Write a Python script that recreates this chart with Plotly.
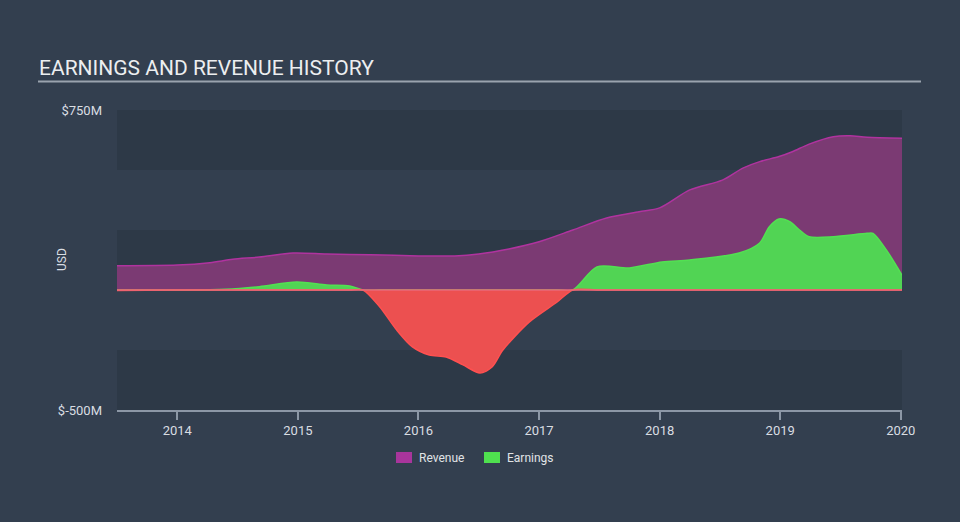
import plotly.graph_objects as go

# ---- data (USD millions, decimal years) ----
rev_x = [2013.5, 2014.0, 2014.27, 2014.46, 2014.68, 2014.96, 2015.24, 2015.6, 2016.0, 2016.3,
         2016.5, 2016.75, 2017.0, 2017.28, 2017.56, 2017.83, 2018.0, 2018.25, 2018.52, 2018.69,
         2018.83, 2018.99, 2019.1, 2019.24, 2019.44, 2019.58, 2019.72, 2020.01]
rev_y = [101, 104, 114, 128, 137, 154, 150, 147, 142, 142,
         150, 171, 201, 250, 300, 326, 342, 417, 458, 508,
         535, 556, 576, 608, 639, 643, 636, 632]

earn_x = [2013.5, 2014.0, 2014.4, 2014.68, 2014.99, 2015.24, 2015.43, 2015.54, 2015.68, 2015.82,
          2015.95, 2016.09, 2016.23, 2016.37, 2016.51, 2016.61, 2016.70, 2016.92, 2017.15, 2017.28,
          2017.48, 2017.75, 2018.02, 2018.25, 2018.66, 2018.83, 2018.91, 2018.99, 2019.08, 2019.16,
          2019.24, 2019.44, 2019.72, 2019.77, 2019.88, 2020.01]
earn_y = [-2, 0, 3, 14, 33, 21, 17, 0, -71, -167,
          -237, -271, -279, -312, -346, -321, -250, -133, -50, 0,
          96, 92, 117, 125, 154, 196, 264, 296, 285, 250,
          222, 222, 236, 236, 167, 62]

year_ticks = [2014, 2015, 2016, 2017, 2018, 2019, 2020]
y_ticks = [-500, 750]
y_tick_text = ["$-500M", "$750M"]
band_edges = [-500, -250, 0, 250, 500, 750]
legend_names = ["Revenue", "Earnings"]
legend_colors = ["#a8359c", "#4fe04f"]

BG = "#333f4f"
BAND = "#2d3947"

earn_pos = [max(v, 0) for v in earn_y]
earn_neg = [min(v, 0) for v in earn_y]

fig = go.Figure()
fig.add_trace(go.Scatter(x=rev_x, y=rev_y, mode="lines", name="Revenue",
                         line=dict(color="#b0339f", width=1.5, shape="spline", smoothing=0.8),
                         fill="tozeroy", fillcolor="#7b3a73", showlegend=False, hoverinfo="skip"))
fig.add_trace(go.Scatter(x=earn_x, y=earn_pos, mode="lines", name="Earnings",
                         line=dict(color="#52e052", width=1.5, shape="spline", smoothing=0.8),
                         fill="tozeroy", fillcolor="#51d454", showlegend=False, hoverinfo="skip"))
fig.add_trace(go.Scatter(x=earn_x, y=earn_neg, mode="lines", name="Earnings (loss)",
                         line=dict(color="#ff5050", width=1.5, shape="spline", smoothing=0.8),
                         fill="tozeroy", fillcolor="#ec5050", showlegend=False, hoverinfo="skip"))

L, R, T, B = 117, 58, 110, 112
pw, ph = 960 - L - R, 522 - T - B
def px(x):
    return (x - L) / pw
def py(y):
    return (522 - B - y) / ph

shapes = []
for i in range(len(band_edges) - 1):
    if i % 2 == 0:
        shapes.append(dict(type="rect", xref="paper", yref="y", x0=0, x1=1,
                           y0=band_edges[i], y1=band_edges[i + 1], fillcolor=BAND,
                           line=dict(width=0), layer="below"))
shapes.append(dict(type="line", xref="paper", yref="y", x0=0, x1=1, y0=0, y1=0,
                   line=dict(color="#e8687a", width=1.5), layer="above"))
shapes.append(dict(type="line", xref="paper", yref="paper", x0=px(38), x1=px(921), y0=py(81.5), y1=py(81.5),
                   line=dict(color="#9aa3ae", width=2)))

annotations = [
    dict(text="EARNINGS AND REVENUE HISTORY", xref="paper", yref="paper", x=px(37), y=py(68),
         xanchor="left", yanchor="middle", showarrow=False, font=dict(size=21, color="#eceef0")),
    dict(text="USD", xref="paper", yref="paper", x=px(62), y=py(260), textangle=-90,
         xanchor="center", yanchor="middle", showarrow=False, font=dict(size=12, color="#d9dde2")),
]

# manual legend
leg_x = [396, 484]
for name, col, lx in zip(legend_names, legend_colors, leg_x):
    shapes.append(dict(type="rect", xref="paper", yref="paper", x0=px(lx), x1=px(lx + 16),
                       y0=py(463), y1=py(452), fillcolor=col, line=dict(width=0)))
    annotations.append(dict(text=name, xref="paper", yref="paper", x=px(lx + 21), y=py(458),
                            xanchor="left", yanchor="middle", showarrow=False,
                            font=dict(size=12, color="#e0e3e6")))

fig.update_layout(
    width=960, height=522,
    margin=dict(l=L, r=R, t=T, b=B),
    paper_bgcolor=BG, plot_bgcolor=BG,
    font=dict(family="Roboto", color="#d9dde2", size=12),
    shapes=shapes,
    annotations=annotations,
    showlegend=False,
    xaxis=dict(range=[2013.5, 2020.01], tickvals=year_ticks, ticktext=[str(t) for t in year_ticks],
               showgrid=False, zeroline=False, showline=True, linecolor="#8c97a6", linewidth=1.5,
               ticks="outside", ticklen=8, tickcolor="#8c97a6", tickwidth=1.5,
               tickfont=dict(size=13, color="#d9dde2"), fixedrange=True),
    yaxis=dict(range=[-500, 750], tickvals=y_ticks, ticktext=y_tick_text, showgrid=False,
               zeroline=False, showline=False, ticks="", ticklabelstandoff=14,
               tickfont=dict(size=13, color="#d9dde2"), fixedrange=True),
)

fig.write_html("out.html")
